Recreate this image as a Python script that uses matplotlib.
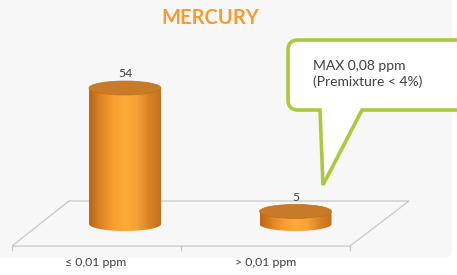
import matplotlib
matplotlib.use("Agg")
import matplotlib.pyplot as plt
import numpy as np
from matplotlib.patches import FancyBboxPatch, Ellipse, Polygon, PathPatch
from matplotlib.path import Path
from matplotlib.colors import LinearSegmentedColormap

plt.rcParams['font.family'] = ['Lato', 'DejaVu Sans']

# Data
categories = ['≤ 0,01 ppm', '> 0,01 ppm']
values = [54, 5]
title = 'MERCURY'
note = 'MAX 0,08 ppm\n(Premixture < 4%)'

W, H = 457, 275
fig = plt.figure(figsize=(W / 100, H / 100), dpi=100)
fig.patch.set_facecolor('white')

# decoration layer in pixel coordinates
deco = fig.add_axes([0, 0, 1, 1])
deco.set_xlim(0, W)
deco.set_ylim(H, 0)
deco.axis('off')

deco.add_patch(FancyBboxPatch((-20, -20), 472, 278, boxstyle='round,pad=0,rounding_size=8',
                              fc='#f7f7f7', ec='none'))

# floor
deco.add_patch(Polygon([(69, 201), (409, 201), (350, 246), (12, 246)], closed=True,
                       fc='none', ec='#c8c8c8', lw=0.9))
for tx in (12, 181, 350):
    deco.plot([tx, tx], [246, 250], color='#c8c8c8', lw=0.9)

deco.text(210, 18, title, ha='center', va='center', fontsize=14.5, fontweight='bold',
          color='#f79a30')

# callout
x0, x1, y0, y1, r = 288, 475, 40, 110, 10
verts = [(x0 + r, y0), (x1 - r, y0), (x1, y0), (x1, y0 + r), (x1, y1 - r), (x1, y1), (x1 - r, y1),
         (362, y1), (323, 185), (320, y1), (x0 + r, y1), (x0, y1), (x0, y1 - r), (x0, y0 + r),
         (x0, y0), (x0 + r, y0), (x0 + r, y0)]
codes = [Path.MOVETO, Path.LINETO, Path.CURVE3, Path.CURVE3, Path.LINETO, Path.CURVE3, Path.CURVE3,
         Path.LINETO, Path.LINETO, Path.LINETO, Path.LINETO, Path.CURVE3, Path.CURVE3, Path.LINETO,
         Path.CURVE3, Path.CURVE3, Path.CLOSEPOLY]
deco.add_patch(PathPatch(Path(verts, codes), fc='white', ec='#a9cb3b', lw=2.6, joinstyle='miter'))
deco.text(313, 74, note, ha='left', va='center', fontsize=10, color='#404040', linespacing=1.3)

for i, c in enumerate(categories):
    deco.text(96 + i * 170, 263, c, ha='center', va='center', fontsize=8.8, color='#404040')

# data layer: categories on x, values on y
ax = fig.add_axes([0, 0, 1, 1])
ax.patch.set_alpha(0)
ax.axis('off')
px_x = 170.5
px_y = 136 / 54

bw = 72 / px_x
eh = 14 / px_y
cmap = LinearSegmentedColormap.from_list('cyl', ['#b8661a', '#e08424', '#f99d30', '#ffaa38', '#f5a236', '#d98226', '#c2711f'])
grad = np.linspace(0, 1, 256).reshape(1, -1)

for i, v in enumerate(values):
    left, right = i - bw / 2, i + bw / 2
    t = np.linspace(np.pi, 2 * np.pi, 60)
    bottom = np.column_stack([i + bw / 2 * np.cos(t), -eh / 2 * np.abs(np.sin(t))])
    body_path = Path(np.vstack([[(left, v)], [(left, 0)], bottom[1:-1], [(right, 0)], [(right, v)], [(left, v)]]),
                     closed=True)
    clip = PathPatch(body_path, fc='none', ec='none', transform=ax.transData)
    ax.add_patch(clip)
    im = ax.imshow(grad, cmap=cmap, aspect='auto', extent=(left, right, -eh, v + eh),
                   interpolation='bilinear', zorder=2)
    im.set_clip_path(clip)
    ax.add_patch(Ellipse((i, v), bw, eh, fc='#c87a28', ec='#c07020', lw=0.5, zorder=3))
    ax.text(i, v + eh / 2 + 0.6, str(v), ha='center', va='bottom', fontsize=8.8, color='#404040', zorder=4)

ax.set_xlim(-125 / px_x, -125 / px_x + W / px_x)
ax.set_ylim(-51 / px_y, -51 / px_y + H / px_y)

fig.savefig('out.png', dpi=100, facecolor=fig.get_facecolor())
